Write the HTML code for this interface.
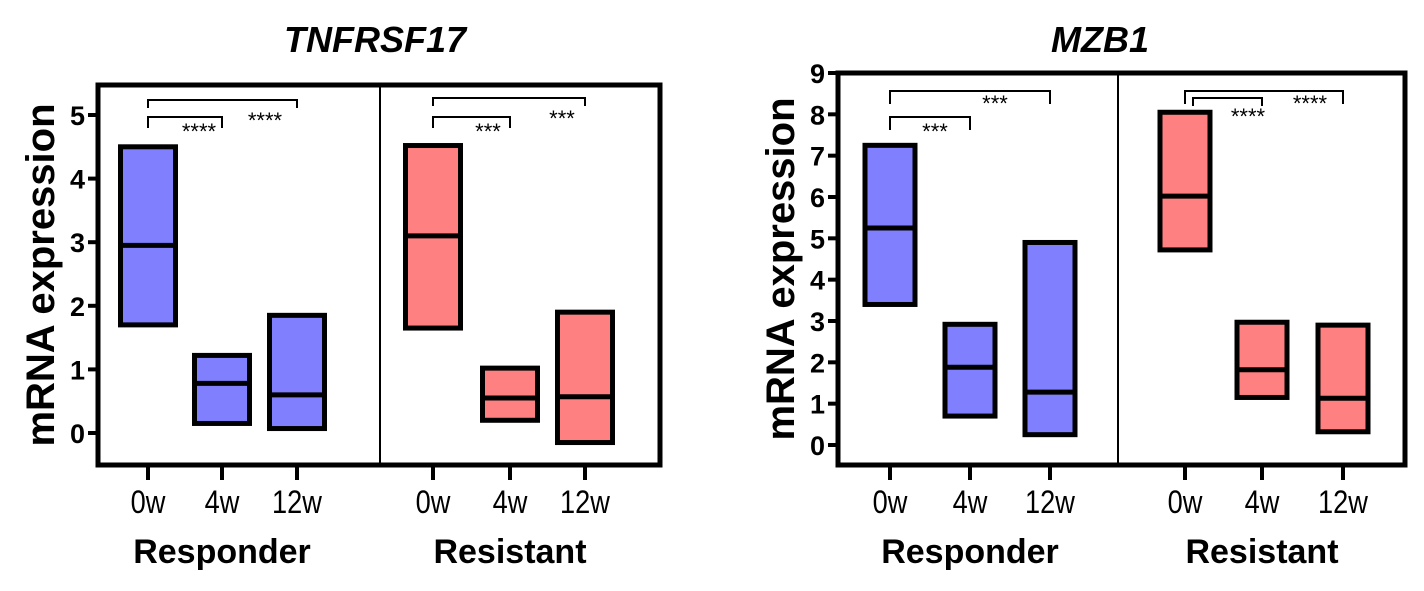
<!DOCTYPE html>
<html><head><meta charset="utf-8"><style>
html,body{margin:0;padding:0;background:#fff;}
svg{display:block;font-family:"Liberation Sans",Arial,sans-serif;}
</style></head><body>
<svg id="fig" width="1424" height="591" viewBox="0 0 1424 591"></svg>
<script>
// ---- data ----
const groups = ["Responder","Resistant"];
const timepoints = ["0w","4w","12w"];
const tnfLow = [1.7,0.15,0.07,1.65,0.2,-0.15];
const tnfHigh = [4.5,1.22,1.85,4.52,1.02,1.9];
const tnfMed = [2.95,0.78,0.6,3.1,0.55,0.57];
const tnfTicks = [0,1,2,3,4,5];
const mzbLow = [3.4,0.7,0.25,4.72,1.15,0.32];
const mzbHigh = [7.25,2.92,4.9,8.05,2.97,2.9];
const mzbMed = [5.25,1.88,1.28,6.02,1.82,1.13];
const mzbTicks = [0,1,2,3,4,5,6,7,8,9];
const tnfSig = [["****","****"],["***","***"]];
const mzbSig = [["***","***"],["****","****"]];

const NS="http://www.w3.org/2000/svg";
const svg=document.getElementById('fig');
function mk(tag,attrs,parent){const e=document.createElementNS(NS,tag);for(const k in attrs)e.setAttribute(k,attrs[k]);(parent||svg).appendChild(e);return e;}

function drawPanel(cfg){
  const g=mk('g',{});
  
  
  const y=v=>cfg.y0+(cfg.yTop-cfg.y0)*(v-cfg.vmin)/(cfg.vmax-cfg.vmin);
  const colors=["#8080ff","#ff8080"];
  for(let i=0;i<6;i++){
    const cx=cfg.xs[i], w=cfg.bw;
    const r=mk('rect',{x:cx-w/2,y:y(cfg.high[i]),width:w,height:y(cfg.low[i])-y(cfg.high[i]),fill:colors[Math.floor(i/3)],stroke:'#000','stroke-width':5},g);
    
    
    const m=mk('line',{x1:cx-w/2,x2:cx+w/2,y1:y(cfg.med[i]),y2:y(cfg.med[i]),stroke:'#000','stroke-width':5},g);
    
    
  }
  const f=mk('rect',{x:cfg.fx1,y:cfg.fy1,width:cfg.fx2-cfg.fx1,height:cfg.fy2-cfg.fy1,fill:'none',stroke:'#000','stroke-width':5},g);
  
  
  const d=mk('line',{x1:cfg.div,x2:cfg.div,y1:cfg.fy1,y2:cfg.fy2,stroke:'#000','stroke-width':2},g);
  
  
  cfg.ticks.forEach(t=>{
    mk('line',{x1:cfg.fx1-10,x2:cfg.fx1,y1:y(t),y2:y(t),stroke:'#000','stroke-width':4},g);
    const tx=mk('text',{x:cfg.fx1-13,y:y(t)+10,'text-anchor':'end','font-size':27,'font-weight':'bold'},g);
    tx.textContent=t;
    
    
  });
  for(let i=0;i<6;i++){
    mk('line',{x1:cfg.xs[i],x2:cfg.xs[i],y1:cfg.fy2,y2:cfg.fy2+15,stroke:'#000','stroke-width':4},g);
    const tx=mk('text',{transform:`translate(${cfg.xs[i]},513) scale(0.85,1)`,'text-anchor':'middle','font-size':32},g);
    tx.textContent=timepoints[i%3];
    
    
  }
  groups.forEach((gr,k)=>{
    const tx=mk('text',{x:cfg.xs[k*3+1],y:563,'text-anchor':'middle','font-size':34,'font-weight':'bold'},g);
    tx.textContent=gr;
    
    
  });
  cfg.br.forEach((b,k)=>{
    const p=mk('path',{d:`M${b[0]},${b[3]} V${b[2]} H${b[1]} V${b[3]}`,fill:'none',stroke:'#000','stroke-width':2},g);
    
    
    const s=mk('text',{x:b[4],y:b[5],'text-anchor':'middle','font-size':22},g);
    s.textContent=cfg.sig[Math.floor(k/2)][k%2];
    
    
  });
  const yt=mk('text',{transform:`translate(${cfg.ytx},${(cfg.fy1+cfg.fy2)/2}) rotate(-90)`,'text-anchor':'middle','font-size':40,'font-weight':'bold'},g);
  yt.textContent='mRNA expression';
  
  
  const tt=mk('text',{x:cfg.tx,y:52,'text-anchor':'middle','font-size':36,'font-weight':'bold','font-style':'italic'},g);
  tt.textContent=cfg.title;
  
  
}

drawPanel({name:'tnfrsf17',title:'TNFRSF17',tx:375,ytx:54,
  fx1:98,fx2:660,fy1:85,fy2:465,div:380,y0:433,yTop:115,vmin:0,vmax:5,
  xs:[148,222,297,433,510,585],bw:55,low:tnfLow,high:tnfHigh,med:tnfMed,ticks:tnfTicks,sig:tnfSig,
  br:[[148,297,100,108,265,128],[148,222,117,128,199,139],[433,585,98,106,562,126],[433,510,117,128,488,139]]});
drawPanel({name:'mzb1',title:'MZB1',tx:1100,ytx:794,
  fx1:838,fx2:1405,fy1:73,fy2:465,div:1118,y0:445,yTop:73,vmin:0,vmax:9,
  xs:[890,970,1050,1185,1262,1343],bw:50,low:mzbLow,high:mzbHigh,med:mzbMed,ticks:mzbTicks,sig:mzbSig,
  br:[[890,1050,91,104,995,111],[890,970,117,130,935,139],[1185,1343,91,104,1310,111],[1193,1262,98,106,1248,124]]});
</script>
</body></html>
